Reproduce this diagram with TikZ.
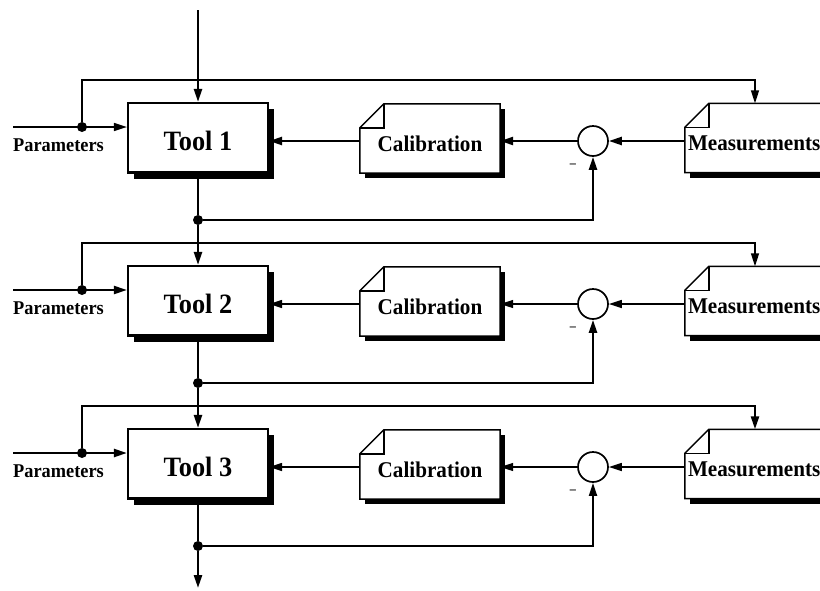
\documentclass[tikz,border=0pt]{standalone}
\usepackage{fontspec}
\setmainfont{Liberation Serif}[FakeStretch=0.94]
\usetikzlibrary{arrows.meta,shadows}

\tikzset{
  sig/.style={-{Triangle[length=13pt,width=8pt]}},
  thickline/.style={line width=2.4pt},
  toolbox/.style={draw, line width=2.2pt, fill=white,
    minimum width=140pt, minimum height=69.5pt, inner sep=0pt,
    font=\fontsize{28}{28}\selectfont\bfseries,
    text height=24.5pt, text depth=0pt,
    drop shadow={shadow xshift=6pt, shadow yshift=-6pt, fill=black, opacity=1}},
  notebox/.style={fill=white, minimum height=69pt, inner sep=0pt,
    font=\fontsize{22.5}{22.5}\selectfont\bfseries,
    text height=25pt, text depth=0pt,
    drop shadow={shadow xshift=5pt, shadow yshift=-5pt, fill=black, opacity=1}},
  noteline/.style={line width=1.5pt, line join=miter},
  sumpoint/.style={circle, draw, line width=1.7pt, fill=white,
    minimum size=30pt, inner sep=0pt},
  junction/.style={circle, fill=black, minimum size=10pt, inner sep=0pt},
  paramtext/.style={font=\fontsize{19.5}{19.5}\selectfont\bfseries,
    anchor=base west, inner sep=0pt},
  minus/.style={font=\fontsize{13}{13}\selectfont\bfseries, inner sep=0pt},
}

\begin{document}
\begin{tikzpicture}[x=1pt, y=-1pt]
\useasboundingbox (0,0) rectangle (820,590);
\clip (0,0) rectangle (820,590);

% one calibration stage per tool
\foreach \r/\lw/\pw/\sw/\fw in {1/1.4/1.4/2.4/2.4, 2/1.4/2.2/1.4/2.4, 3/2.4/2.4/1.4/1.9} {
  \pgfmathsetmacro\dy{163*(\r-1)}

  % blocks
  \node[toolbox] (tool\r) at (198,137.75+\dy) {Tool \r};
  \node[notebox, minimum width=140pt] (cal\r) at (430,138.5+\dy) {Calibration};
  \node[notebox, minimum width=160pt, inner xsep=3pt, text width=154pt,
        align=left] (meas\r) at (765,138+\dy) {Measurements};
  \node[sumpoint] (sum\r) at (593,141+\dy) {};
  \node[minus] (neg\r) at (573,166+\dy) {--};

  % folded-corner outlines of the data blocks
  \foreach \n in {cal\r, meas\r} {
    \draw[noteline] ([yshift=-24pt]\n.north west) -- ([xshift=24pt]\n.north west)
      -- (\n.north east) -- (\n.south east) -- (\n.south west) -- cycle;
    \draw[noteline] ([yshift=-24pt]\n.north west) -| ([xshift=24pt]\n.north west);
  }

  % parameter input and its branch to the measurements
  \coordinate (pin\r) at (13,127+\dy);
  \coordinate (loop\r) at (82,80+\dy);
  \node[junction] (jp\r) at (82,127+\dy) {};
  \draw[sig, line width=\pw pt] (pin\r) -- (tool\r.west |- pin\r);
  \draw[sig, line width=\lw pt] (jp\r) -- (loop\r) -| ([xshift=-10pt]meas\r.north);
  \node[paramtext] (ptxt\r) at (13,151+\dy) {Parameters};

  % comparison and calibration path
  \draw[sig, line width=\sw pt] (meas\r.west |- sum\r) -- (sum\r.east);
  \draw[sig, line width=\sw pt] (sum\r.west) -- (cal\r.east |- sum\r);
  \draw[sig, line width=\sw pt] (cal\r.west |- sum\r) -- (tool\r.east |- sum\r);

  % tool output fed back to the comparison
  \node[junction] (jf\r) at (198,220+\dy) {};
  \draw[sig, line width=\fw pt] (jf\r) -| (sum\r.south);
  \draw[thickline] (tool\r.south) -- (jf\r);
}

% main flow through the tools
\coordinate (top) at (198,10);
\coordinate (bottom) at (198,588);
\draw[sig, thickline] (top) -- (tool1.north);
\draw[sig, thickline] (jf1) -- (tool2.north);
\draw[sig, thickline] (jf2) -- (tool3.north);
\draw[sig, thickline] (jf3) -- (bottom);
\end{tikzpicture}
\end{document}
